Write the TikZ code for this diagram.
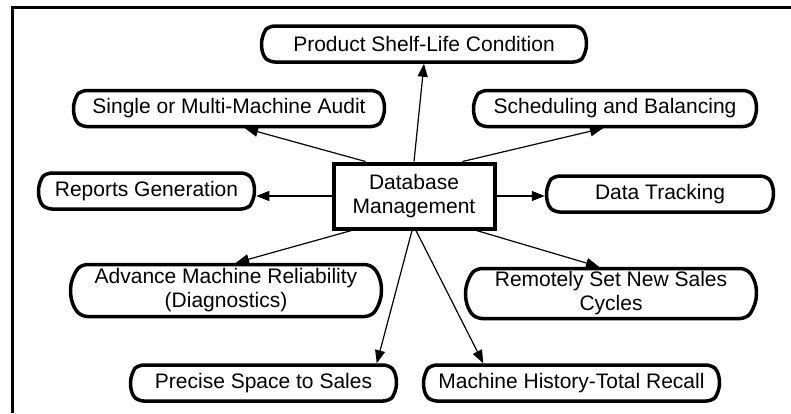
\documentclass[tikz,border=0pt]{standalone}
\usepackage{fontspec}
\setmainfont{Liberation Sans}
\usetikzlibrary{arrows.meta,shapes.misc}

\tikzset{
	bubble/.style={draw, line width=3.5pt, rounded rectangle, rounded rectangle arc length=100, rounded corners=5pt, minimum height=36pt, inner sep=2pt, align=center, font=\fontsize{21}{24}\selectfont},
	dbbox/.style={draw, line width=4pt, minimum width=161pt, minimum height=65pt, inner sep=2pt, align=center, font=\fontsize{21}{24}\selectfont},
	link/.style={line width=1.2pt, -{Triangle[length=13pt,width=10pt]}}
}

\begin{document}
\begin{tikzpicture}[x=1pt, y=-1pt]
			%%%%% START %%%%%
			\useasboundingbox (0, 0) rectangle (791, 413);
			
			\draw[line width=3pt] (12, 413) -- (12, 7) -- (791, 7);
			
			\node[dbbox] (db) at (414, 196) {Database\\Management};
			
			\node[bubble, minimum width=329pt] (shelf) at (424, 44) {Product Shelf-Life Condition};
			\node[bubble, minimum width=315pt] (audit) at (229, 108.5) {Single or Multi-Machine Audit};
			\node[bubble, minimum width=287pt] (sched) at (615, 108.5) {Scheduling and Balancing};
			\node[bubble, minimum width=220pt] (reports) at (146.5, 191) {Reports Generation};
			\node[bubble, minimum width=231pt] (tracking) at (660, 194) {Data Tracking};
			
			\node[bubble, minimum width=315pt, minimum height=52pt] (advance) at (226, 290.5) {Advance Machine Reliability\\(Diagnostics)};
			\node[bubble, minimum width=295pt, minimum height=50pt] (remote) at (611, 293.5) {Remotely Set New Sales\\Cycles};
			
			\node[bubble, minimum width=270pt] (precise) at (263.5, 383) {Precise Space to Sales};
			\node[bubble, minimum width=300pt] (history) at (571.5, 383) {Machine History-Total Recall};
			
			%%%%% LINKS %%%%%
			\draw[link] (db.north) -- (shelf.south);
			\draw[link] ([xshift=34pt]db.north west) -- ([xshift=16pt]audit.south);
			\draw[link] ([xshift=-34pt]db.north east) -- ([xshift=-12pt]sched.south);
			\draw[link] (db.west) -- (db.west -| reports.east);
			\draw[link] (db.east) -- (db.east -| tracking.west);
			\draw[link] ([xshift=20pt]db.south west) -- ([xshift=10pt]advance.north);
			\draw[link] ([xshift=-20pt]db.south east) -- ([xshift=-12pt]remote.north);
			\draw[link] ([xshift=-2pt]db.south) -- ([xshift=-12pt]precise.north east);
			\draw[link] ([xshift=2pt]db.south) -- ([xshift=52pt]history.north west);
			
			%%%%% END %%%%%
\end{tikzpicture}
\end{document}
